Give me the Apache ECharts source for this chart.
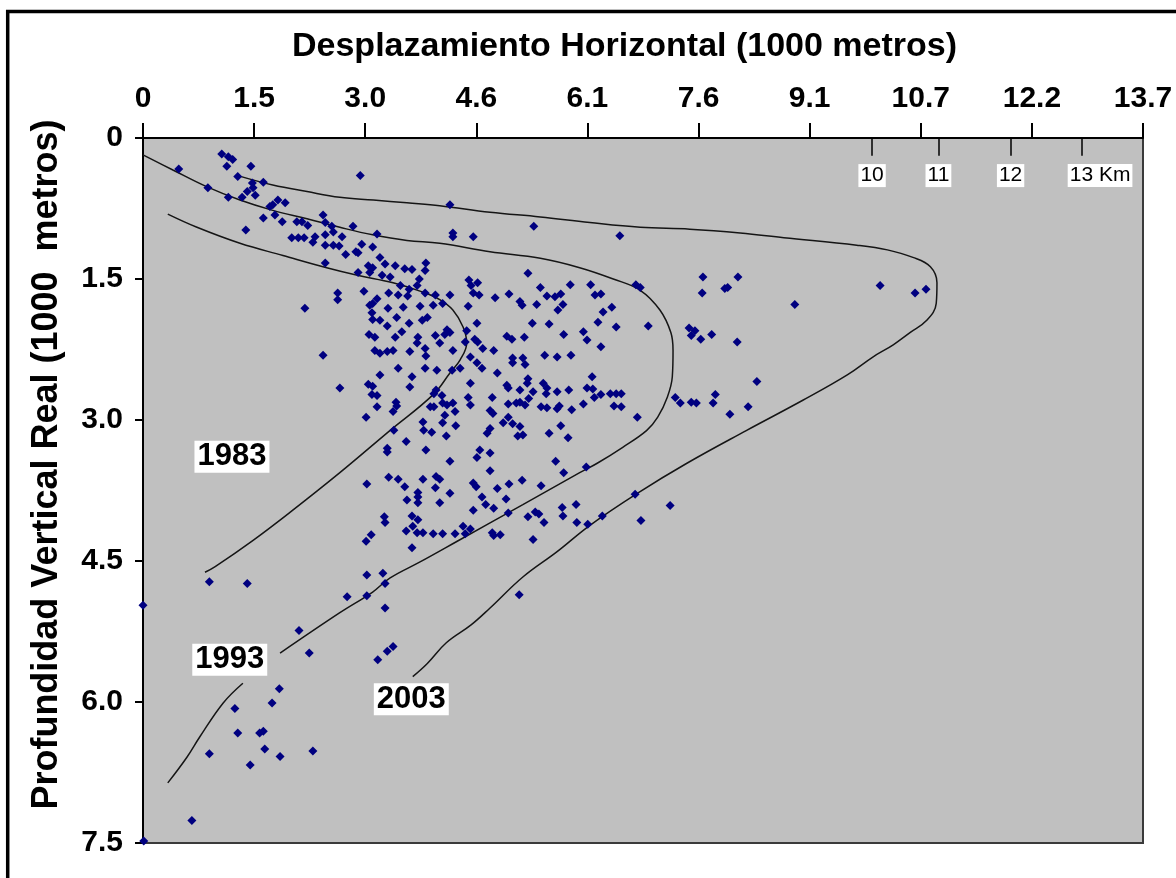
<!DOCTYPE html>
<html lang="es">

<head>
  <meta charset="UTF-8" />
  <title>Desplazamiento Horizontal</title>
  <script src="https://cdn.jsdelivr.net/npm/echarts@6/dist/echarts.min.js"></script>
  <style>
    html, body { margin: 0; padding: 0; background: #fff; }
  </style>
</head>

<body>
  <div id="main" style="width: 1176px;height:878px;"></div>
  <script type="text/javascript">
    // etiquetas de los ejes (km, convertidos desde pies)
    var xTickLabels = ['0', '1.5', '3.0', '4.6', '6.1', '7.6', '9.1', '10.7', '12.2', '13.7']
    var xStep = 1.524
    var yTickLabels = ['0', '1.5', '3.0', '4.5', '6.0', '7.5']

    // marcas de km reales dentro del gráfico
    var kmMarks = [10, 10.91, 11.9, 12.88]
    var kmLabels = ['10', '11', '12', '13 Km']

    // puntos de los pozos [desplazamiento, profundidad]
    var wellPoints = [
      [1.08, 0.17], [1.17, 0.20], [1.23, 0.23], [1.15, 0.30], [1.48, 0.30], [0.49, 0.33], [1.30, 0.41], [2.98, 0.40],
      [1.65, 0.47], [1.50, 0.48], [1.51, 0.53], [0.89, 0.53], [1.43, 0.57], [1.54, 0.61], [1.17, 0.63], [1.36, 0.63],
      [1.85, 0.66], [1.95, 0.69], [1.78, 0.71], [1.74, 0.73], [1.81, 0.82], [1.65, 0.85], [1.91, 0.89], [2.11, 0.89],
      [2.18, 0.89], [2.26, 0.93], [2.47, 0.82], [2.50, 0.90], [2.59, 0.94], [2.88, 0.94], [3.21, 1.02], [1.41, 0.98],
      [2.04, 1.06], [2.13, 1.06], [2.21, 1.06], [2.36, 1.05], [2.33, 1.11], [2.50, 1.03], [2.61, 1.00], [2.73, 1.05],
      [2.50, 1.14], [2.61, 1.14], [2.69, 1.15], [3.00, 1.13], [3.15, 1.16], [2.78, 1.24], [2.92, 1.21], [2.95, 1.22],
      [2.50, 1.33], [3.25, 1.27], [3.32, 1.34], [3.09, 1.36], [3.15, 1.38], [3.46, 1.36], [3.59, 1.39], [3.69, 1.40],
      [3.88, 1.33], [3.87, 1.41], [2.95, 1.43], [3.11, 1.43], [3.28, 1.46], [3.39, 1.48], [3.79, 1.50], [3.76, 1.57],
      [3.53, 1.57], [3.65, 1.61], [3.87, 1.65], [4.01, 1.67], [2.67, 1.65], [2.67, 1.72], [3.03, 1.63], [3.37, 1.65],
      [3.50, 1.67], [3.63, 1.68], [3.21, 1.71], [3.15, 1.76], [3.11, 1.78], [2.22, 1.81], [3.36, 1.81], [3.57, 1.80],
      [3.80, 1.79], [3.98, 1.78], [3.14, 1.86], [3.15, 1.93], [3.25, 1.94], [3.48, 1.91], [3.65, 1.97], [3.83, 1.94],
      [3.90, 1.91], [3.35, 2.00], [3.10, 2.09], [3.18, 2.12], [3.55, 2.06], [3.46, 2.12], [3.77, 2.12], [4.01, 2.10],
      [3.76, 2.18], [3.18, 2.26], [3.25, 2.29], [3.35, 2.27], [3.43, 2.26], [3.66, 2.27], [3.87, 2.24], [3.88, 2.32],
      [2.47, 2.31], [3.25, 2.52], [3.50, 2.45], [3.87, 2.45], [3.69, 2.54], [4.03, 2.47],
      [4.21, 0.71], [4.25, 1.01], [4.25, 1.05], [4.53, 1.05], [5.36, 0.94], [6.54, 1.04], [5.28, 1.44], [4.47, 1.51],
      [4.59, 1.54], [4.50, 1.57], [4.53, 1.65], [4.61, 1.67], [4.21, 1.67], [4.83, 1.70], [5.02, 1.66], [5.17, 1.74],
      [5.20, 1.78], [5.40, 1.77], [5.45, 1.59], [5.54, 1.68], [5.65, 1.69], [5.73, 1.66], [5.76, 1.77], [5.69, 1.83],
      [5.86, 1.56], [6.14, 1.56], [6.20, 1.67], [6.28, 1.66], [6.43, 1.80], [6.31, 1.85], [6.24, 1.96], [6.49, 2.01],
      [6.76, 1.56], [6.82, 1.59], [6.93, 2.00], [7.68, 1.48], [7.67, 1.65], [7.98, 1.60], [8.02, 1.59], [8.16, 1.48],
      [7.49, 2.02], [7.57, 2.05], [7.52, 2.10], [7.65, 2.14], [7.80, 2.09], [8.15, 2.17], [4.11, 1.76], [4.46, 1.79],
      [4.58, 1.97], [5.34, 1.97], [5.57, 1.98], [5.77, 2.09], [6.04, 2.06], [6.09, 2.15], [6.28, 2.22], [4.17, 2.04],
      [4.21, 2.07], [4.14, 2.09], [4.44, 2.05], [4.55, 2.14], [4.59, 2.17], [4.42, 2.17], [4.25, 2.26], [4.07, 2.18],
      [4.66, 2.24], [4.81, 2.26], [4.99, 2.11], [5.06, 2.14], [5.23, 2.12], [4.49, 2.33], [4.58, 2.39], [4.65, 2.45],
      [5.07, 2.34], [5.07, 2.39], [5.21, 2.34], [5.24, 2.41], [5.51, 2.31], [5.68, 2.33], [5.87, 2.31], [4.86, 2.50],
      [4.24, 2.47], [4.35, 2.45], [6.16, 2.54], [5.28, 2.56],
      [2.70, 2.66], [3.09, 2.62], [3.15, 2.64], [3.14, 2.73], [3.21, 2.74], [3.21, 2.86], [3.47, 2.81], [3.48, 2.85],
      [3.43, 2.91], [3.06, 2.97], [3.66, 2.65], [4.02, 2.68], [3.99, 2.72], [4.10, 2.74], [3.94, 2.86], [3.99, 2.86],
      [4.11, 2.82], [4.17, 2.84], [4.25, 2.82], [4.28, 2.91], [4.14, 2.95], [4.11, 3.03], [4.29, 3.06], [3.84, 3.02],
      [3.85, 3.11], [3.96, 3.13], [3.44, 3.11], [3.61, 3.23], [3.35, 3.30], [3.35, 3.34], [3.88, 3.32], [4.16, 3.17],
      [4.21, 3.44], [4.49, 2.61], [4.46, 2.76], [4.49, 2.84], [4.79, 2.76], [4.99, 2.63], [5.01, 2.66], [5.17, 2.68],
      [5.27, 2.61], [5.49, 2.61], [5.54, 2.66], [5.53, 2.72], [5.68, 2.70], [5.84, 2.68], [6.09, 2.66], [5.35, 2.70],
      [5.29, 2.77], [5.17, 2.81], [5.12, 2.82], [5.24, 2.84], [5.01, 2.83], [4.76, 2.90], [4.80, 2.93], [5.01, 2.97],
      [4.94, 3.03], [5.07, 3.04], [5.17, 3.07], [5.46, 2.86], [5.54, 2.87], [5.68, 2.88], [5.71, 2.85], [5.88, 2.89],
      [6.04, 2.83], [4.76, 3.09], [4.72, 3.14], [5.14, 3.17], [5.21, 3.16], [5.57, 3.14], [5.73, 3.06], [5.83, 3.19],
      [4.62, 3.32], [4.58, 3.40], [4.76, 3.35], [4.76, 3.54], [5.66, 3.44], [5.77, 3.56], [6.08, 3.50], [3.07, 3.68],
      [3.37, 3.61], [3.50, 3.63], [3.59, 3.71], [3.84, 3.63], [4.02, 3.60], [4.07, 3.63], [4.01, 3.72], [3.77, 3.77],
      [3.77, 3.82], [3.62, 3.85], [3.77, 3.88], [4.07, 3.88], [4.21, 3.78], [4.53, 3.67], [4.57, 3.71], [4.86, 3.73],
      [4.65, 3.82], [4.70, 3.90], [4.53, 3.96], [4.81, 3.94], [4.98, 3.84], [5.01, 3.99], [5.02, 3.68], [5.20, 3.64],
      [5.46, 3.70], [3.31, 4.03], [3.32, 4.09], [3.69, 4.02], [3.77, 4.06], [3.70, 4.13], [3.61, 4.18], [3.76, 4.20],
      [3.84, 4.20], [3.98, 4.21], [4.11, 4.21], [4.28, 4.21], [4.42, 4.21], [4.39, 4.13], [4.49, 4.16], [4.79, 4.20],
      [4.81, 4.23], [4.90, 4.22], [3.13, 4.22], [3.06, 4.29], [3.69, 4.36], [5.28, 4.03], [5.38, 3.98], [5.43, 4.00],
      [5.50, 4.09], [5.75, 3.93], [5.76, 4.02], [5.94, 3.90], [5.95, 4.09], [6.10, 4.11], [5.35, 4.27], [3.07, 4.65],
      [3.29, 4.63], [3.32, 4.74], [2.80, 4.88], [3.07, 4.87], [3.32, 5.00], [5.16, 4.86],
      [8.94, 1.77], [10.11, 1.57], [10.59, 1.65], [10.74, 1.61], [8.42, 2.59], [7.30, 2.76], [7.37, 2.82], [7.52, 2.81],
      [7.59, 2.82], [7.85, 2.73], [7.82, 2.82], [8.30, 2.86], [8.05, 2.94], [6.78, 2.97], [6.17, 2.67], [6.19, 2.76],
      [6.28, 2.73], [6.41, 2.72], [6.49, 2.72], [6.56, 2.72], [6.46, 2.85], [6.56, 2.86], [6.75, 3.79], [7.23, 3.91],
      [6.83, 4.07], [6.30, 4.02],
      [0.91, 4.72], [1.43, 4.74], [0.00, 4.97], [2.14, 5.24], [2.28, 5.48], [3.43, 5.41], [3.35, 5.46], [3.22, 5.55],
      [1.87, 5.86], [1.77, 6.01], [1.26, 6.07], [1.30, 6.33], [1.60, 6.33], [1.65, 6.31], [1.67, 6.50], [0.91, 6.55],
      [1.47, 6.67], [1.88, 6.58], [2.33, 6.52], [0.67, 7.26], [0.01, 7.48]
    ]

    // frentes de avance por año
    var curve1983 = [
      [0.34, 0.81], [0.74, 0.95], [1.33, 1.12], [1.92, 1.25], [2.52, 1.38], [2.94, 1.46], [3.43, 1.54], [3.84, 1.64],
      [4.07, 1.72], [4.25, 1.83], [4.39, 2.01], [4.44, 2.18], [4.35, 2.36], [4.21, 2.50], [3.98, 2.73], [3.39, 3.11],
      [2.70, 3.56], [2.02, 3.98], [1.51, 4.28], [0.99, 4.56], [0.85, 4.62]
    ]
    var curve1993 = [
      [0.00, 0.18], [0.41, 0.34], [0.88, 0.52], [1.33, 0.66], [1.78, 0.77], [2.25, 0.86], [2.70, 0.95], [3.15, 1.03],
      [3.62, 1.09], [4.07, 1.12], [4.76, 1.21], [5.45, 1.28], [5.99, 1.38], [6.45, 1.50], [6.82, 1.62], [7.09, 1.83],
      [7.24, 2.07], [7.27, 2.26], [7.26, 2.54], [7.19, 2.76], [7.06, 2.97], [6.91, 3.11], [6.58, 3.29], [6.23, 3.46],
      [5.99, 3.56], [5.21, 3.90], [4.31, 4.29], [3.80, 4.51], [3.39, 4.68], [3.15, 4.83], [2.70, 5.05], [1.88, 5.48]
    ]
    var curve1993Tail = [
      [1.37, 5.80], [1.10, 6.01], [0.78, 6.37], [0.60, 6.59], [0.34, 6.86]
    ]
    var curve2003 = [
      [1.30, 0.40], [1.78, 0.50], [2.25, 0.57], [2.70, 0.63], [3.16, 0.66], [3.62, 0.69], [4.07, 0.72], [4.76, 0.79],
      [5.45, 0.84], [6.13, 0.90], [6.82, 0.95], [7.50, 0.97], [8.19, 1.01], [8.79, 1.06], [9.79, 1.14], [10.21, 1.19],
      [10.56, 1.27], [10.80, 1.37], [10.89, 1.54], [10.88, 1.76], [10.75, 1.94], [10.52, 2.07], [10.29, 2.20], [10.01, 2.33],
      [9.66, 2.52], [9.05, 2.79], [8.28, 3.11], [7.46, 3.46], [6.78, 3.78], [6.13, 4.12], [5.68, 4.40], [5.21, 4.67],
      [4.76, 5.00], [4.50, 5.18], [4.16, 5.37], [3.90, 5.59], [3.70, 5.73]
    ]

    // rótulos de los años [texto, x, y]
    var yearLabels = [
      ['1983', 1.22, 3.39],
      ['1993', 1.19, 5.55],
      ['2003', 3.68, 5.97]
    ]

    var myChart = echarts.init(document.getElementById('main'))

    var fontFam = '"Liberation Sans", Arial, sans-serif'
    var curveStyle = { color: '#151515', width: 1.5 }

    function curveSeries(data) {
      return {
        type: 'line',
        data: data,
        smooth: 0.4,
        symbol: 'none',
        silent: true,
        lineStyle: curveStyle,
        z: 3
      }
    }

    var option = {
      animation: false,
      backgroundColor: '#ffffff',
      title: {
        text: 'Desplazamiento Horizontal (1000 metros)',
        left: 287,
        top: 25,
        textStyle: { fontFamily: fontFam, fontSize: 34, fontWeight: 'bold', color: '#000' }
      },
      grid: {
        left: 143,
        right: 33,
        top: 138,
        bottom: 35,
        show: true,
        backgroundColor: '#c0c0c0',
        borderColor: '#3a3a3a',
        borderWidth: 2
      },
      xAxis: {
        type: 'value',
        position: 'top',
        min: 0,
        max: xStep * 9,
        interval: xStep,
        axisLine: { onZero: false, lineStyle: { color: '#000', width: 2 } },
        axisTick: { length: 15, lineStyle: { color: '#000', width: 2 } },
        splitLine: { show: false },
        axisLabel: {
          margin: 24,
          fontFamily: fontFam,
          fontSize: 30,
          fontWeight: 'bold',
          color: '#000',
          formatter: function (v) { return xTickLabels[Math.round(v / xStep)] }
        }
      },
      yAxis: {
        type: 'value',
        inverse: true,
        min: 0,
        max: 7.5,
        interval: 1.5,
        name: 'Profundidad Vertical Real (1000  metros)',
        nameLocation: 'middle',
        nameGap: 78,
        nameTextStyle: {
          fontFamily: fontFam, fontSize: 36, fontWeight: 'bold', color: '#000',
          padding: [0, 0, 0, 52]
        },
        axisLine: { onZero: false, lineStyle: { color: '#000', width: 2 } },
        axisTick: { length: 8, lineStyle: { color: '#000', width: 2 } },
        splitLine: { show: false },
        axisLabel: {
          margin: 20,
          fontFamily: fontFam,
          fontSize: 30,
          fontWeight: 'bold',
          color: '#000',
          formatter: function (v) { return yTickLabels[Math.round(v / 1.5)] }
        }
      },
      graphic: [
        { type: 'line', shape: { x1: 6, y1: 11.5, x2: 1176, y2: 11.5 }, style: { stroke: '#000', lineWidth: 3.5 } },
        { type: 'line', shape: { x1: 7.7, y1: 10, x2: 7.7, y2: 878 }, style: { stroke: '#000', lineWidth: 3.5 } }
      ],
      series: [
        curveSeries(curve1983),
        curveSeries(curve1993),
        curveSeries(curve1993Tail),
        curveSeries(curve2003),
        {
          type: 'scatter',
          data: wellPoints,
          symbol: 'diamond',
          symbolSize: 9,
          itemStyle: { color: '#000080', opacity: 1 },
          z: 4
        },
        {
          // marcas de km con su rótulo
          type: 'scatter',
          data: kmMarks.map(function (k, i) { return { name: kmLabels[i], value: [k, 0.40] } }),
          symbolSize: 0,
          silent: true,
          z: 6,
          itemStyle: { opacity: 1 },
          label: {
            show: true,
            position: 'inside',
            formatter: '{b}',
            fontFamily: fontFam,
            fontSize: 21,
            color: '#000',
            opacity: 1,
            backgroundColor: '#fff',
            padding: [2, 2, 0, 2]
          },
          labelLayout: function (p) {
            return p.text === '13 Km' ? { dx: 18 } : {}
          },
          markLine: {
            silent: true,
            symbol: 'none',
            label: { show: false },
            lineStyle: { color: '#000', width: 1.5, type: 'solid', opacity: 1 },
            data: kmMarks.map(function (k) { return [{ coord: [k, 0] }, { coord: [k, 0.19] }] })
          }
        },
        {
          type: 'scatter',
          data: yearLabels.map(function (d) { return { name: d[0], value: [d[1], d[2]] } }),
          symbolSize: 0,
          silent: true,
          z: 6,
          itemStyle: { opacity: 1 },
          label: {
            show: true,
            position: 'inside',
            formatter: '{b}',
            fontFamily: fontFam,
            fontSize: 31,
            fontWeight: 'bold',
            color: '#000',
            opacity: 1,
            backgroundColor: '#fff',
            padding: [1, 3, 0, 3]
          }
        }
      ]
    }

    myChart.setOption(option)
  </script>
</body>

</html>
